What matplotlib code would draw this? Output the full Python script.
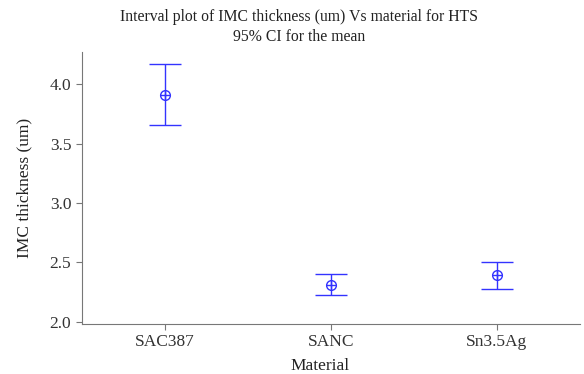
import matplotlib
matplotlib.use("Agg")
import matplotlib.pyplot as plt
import numpy as np

categories = ["SAC387", "SANC", "Sn3.5Ag"]
means = [3.91, 2.31, 2.39]
lower = [3.66, 2.23, 2.28]
upper = [4.17, 2.40, 2.50]

plt.rcParams['font.family'] = ['Liberation Serif', 'DejaVu Serif']

fig = plt.figure(figsize=(5.84, 3.74), dpi=100)
ax = fig.add_axes([0.140, 0.134, 0.853, 0.727])

x = np.arange(len(categories))
m = np.array(means)
yerr = np.vstack([m - np.array(lower), np.array(upper) - m])
col = "#3333ff"
ax.errorbar(x, m, yerr=yerr, fmt='none', ecolor=col, elinewidth=1.0, capsize=11.5, capthick=1.0)
ax.plot(x, m, 'o', ms=7, mfc='none', mec=col, mew=1.0)
ax.plot(x, m, '+', ms=7, color=col, mew=1.0)

ax.set_xlim(-0.5, 2.5)
ax.set_ylim(1.983, 4.27)
ax.set_xticks(x)
ax.set_xticklabels(categories)
ax.set_yticks([2.0, 2.5, 3.0, 3.5, 4.0])
ax.set_yticklabels(["2.0", "2.5", "3.0", "3.5", "4.0"])
ax.spines['top'].set_visible(False)
ax.spines['right'].set_visible(False)
for s in ['left', 'bottom']:
    ax.spines[s].set_color('#777777')
ax.tick_params(direction='out', length=4, color='#777777', labelsize=12.5, labelcolor='#333333')
ax.set_xlabel("Material", fontsize=12.5, labelpad=0, color='#222222')
ax.xaxis.set_label_coords(0.478, -0.125)
ax.set_ylabel("IMC thickness (um)", fontsize=12.5, color='#222222')
ax.yaxis.set_label_coords(-0.10, 0.5)
fig.text(0.512, 0.955, "Interval plot of IMC thickness (um) Vs material for HTS",
         fontsize=11.3, ha='center', va='center', color='#222222')
fig.text(0.512, 0.902, "95% CI for the mean",
         fontsize=11.3, ha='center', va='center', color='#222222')

fig.savefig("out.png", dpi=100)
